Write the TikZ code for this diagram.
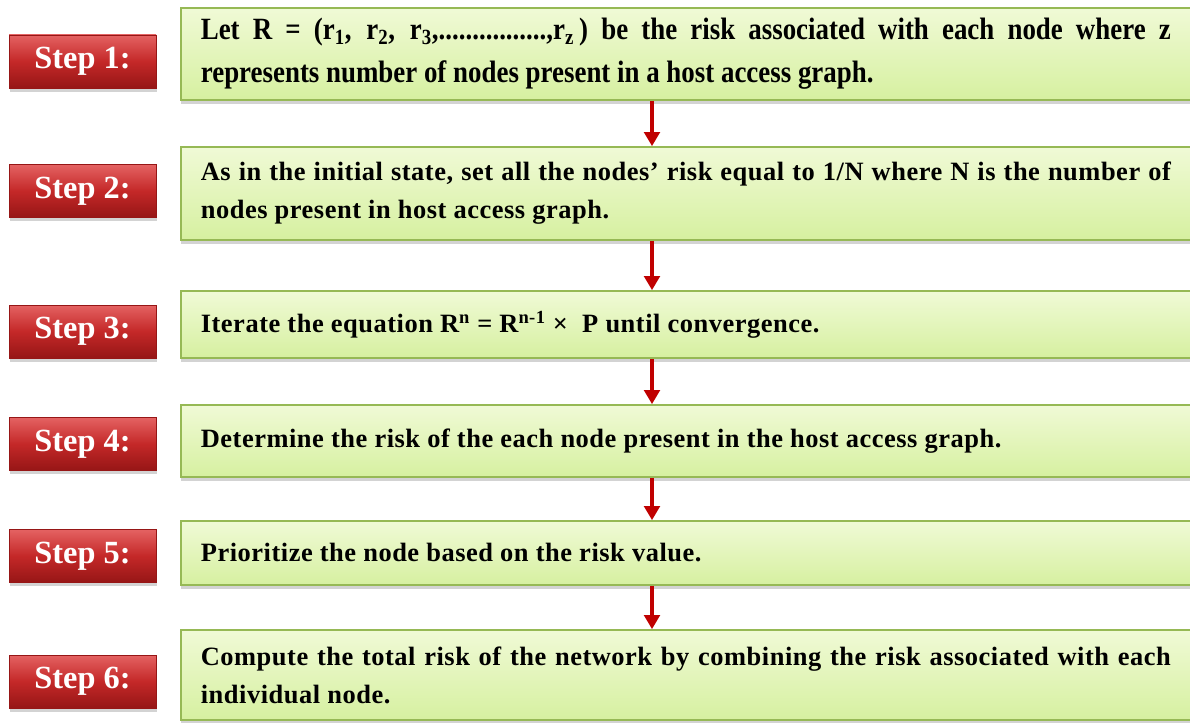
\documentclass[tikz,border=0pt]{standalone}
\usepackage{fontspec}
\setmainfont{Liberation Serif}
\newfontfamily\narrowfont[FakeStretch=0.87]{Liberation Serif}
\usepackage{tikz}
\usetikzlibrary{arrows.meta,shadows}

\definecolor{stepred}{RGB}{196,40,40}
\definecolor{steptop}{RGB}{228,98,98}
\definecolor{stepbot}{RGB}{150,22,22}
\definecolor{boxtop}{RGB}{240,250,214}
\definecolor{boxbot}{RGB}{214,240,160}
\definecolor{boxline}{RGB}{150,185,85}
\definecolor{flowred}{RGB}{192,0,0}

\begin{document}
\begin{tikzpicture}
        \tikzset{flow/.style={draw=flowred,line width=3pt,-{Triangle[width=11pt,length=10pt]}}}
        \tikzstyle{stepbox}=[rectangle,draw=stepbot,thin,top color=steptop,bottom color=stepbot,middle color=stepred,
            minimum width=3.675cm,minimum height=1.325cm,inner sep=0pt,text=white,
            font=\bfseries\fontsize{23}{27}\selectfont,
            drop shadow={shadow xshift=1pt,shadow yshift=-2.5pt,opacity=0.35}]
        \tikzstyle{textbox}=[rectangle,draw=boxline,line width=1.2pt,top color=boxtop,bottom color=boxbot,
            anchor=west,text width=24.25cm,inner xsep=0.5cm,inner ysep=0pt,align=justify,text=black,
            font=\bfseries\fontsize{18.8}{27}\selectfont\addfontfeatures{LetterSpace=2},
            drop shadow={shadow xshift=0pt,shadow yshift=-3pt,opacity=0.35}]

        \useasboundingbox (0,0) rectangle (29.75cm,-18.075cm);

        % steps on the left
        \node[stepbox] (s1) at (2.0625cm,-1.5375cm) {Step 1:};
        \node[stepbox] (s2) at (2.0625cm,-4.775cm) {Step 2:};
        \node[stepbox] (s3) at (2.0625cm,-8.2875cm) {Step 3:};
        \node[stepbox] (s4) at (2.0625cm,-11.1cm) {Step 4:};
        \node[stepbox] (s5) at (2.0625cm,-13.9cm) {Step 5:};
        \node[stepbox] (s6) at (2.0625cm,-17.0375cm) {Step 6:};

        % text boxes
        \node[textbox,minimum height=2.3cm,font=\bfseries\narrowfont\fontsize{22}{30.5}\selectfont] (b1) at (4.5cm,-1.35cm)
            {Let R = (r\textsubscript{1}, r\textsubscript{2}, r\textsubscript{3},................,r\textsubscript{z}\,) be the risk associated with each node where z\linebreak represents number of nodes present in a host access graph.};
        \node[textbox,minimum height=2.325cm] (b2) at (4.5cm,-4.8375cm)
            {As in the initial state, set all the nodes’ risk equal to 1/N where N is the number of\linebreak nodes present in host access graph.};
        \node[textbox,minimum height=1.675cm] (b3) at (4.5cm,-8.1125cm)
            {Iterate the equation R\textsuperscript{n} = R\textsuperscript{n-1} × \ P until convergence.};
        \node[textbox,minimum height=1.8cm] (b4) at (4.5cm,-11.025cm)
            {Determine the risk of the each node present in the host access graph.};
        \node[textbox,minimum height=1.6cm] (b5) at (4.5cm,-13.825cm)
            {Prioritize the node based on the risk value.};
        \node[textbox,minimum height=2.25cm] (b6) at (4.5cm,-16.875cm)
            {Compute the total risk of the network by combining the risk associated with each\linebreak individual node.};

        \coordinate (col) at (16.3cm,0);

        \foreach \a/\b in {b1/b2,b2/b3,b3/b4,b4/b5,b5/b6}
            \draw[flow] (\a.south -| col) -- (\b.north -| col);
    \end{tikzpicture}
\end{document}
